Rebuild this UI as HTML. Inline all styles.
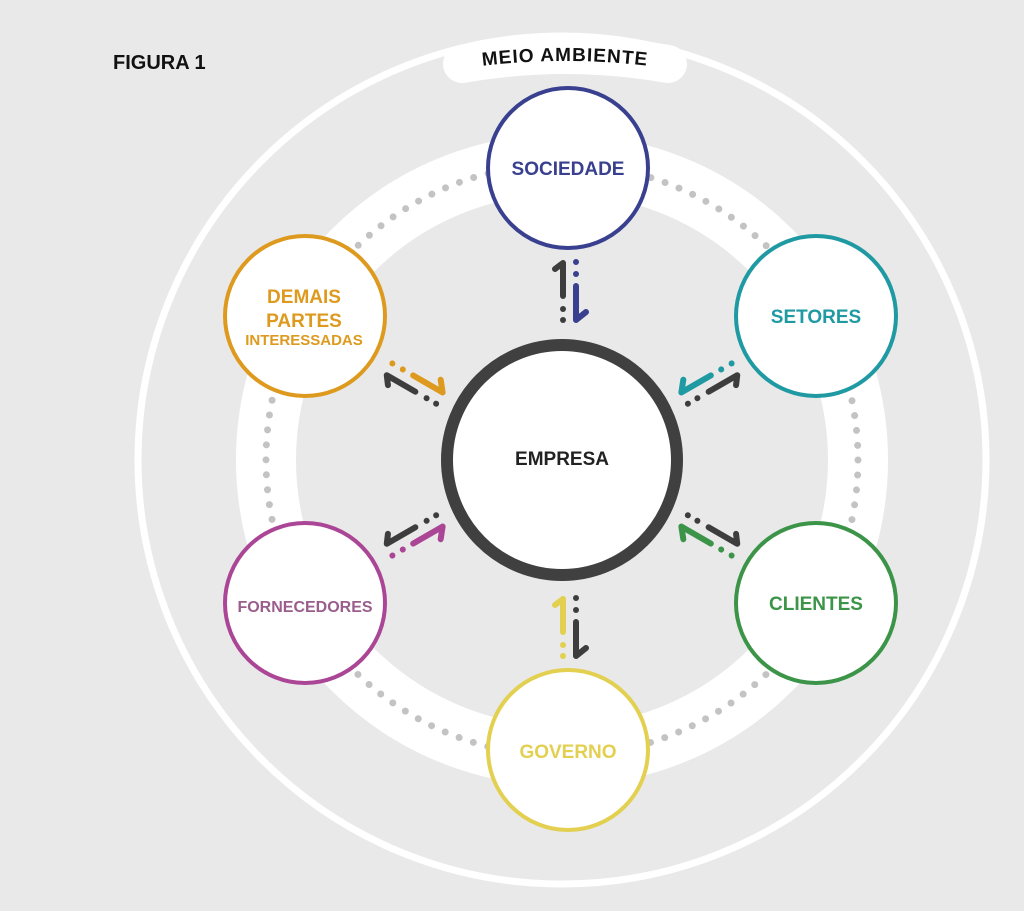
<!DOCTYPE html>
<html><head><meta charset="utf-8"><style>
html,body{margin:0;padding:0;background:#e9e9e9;}
svg{display:block;}
text{font-family:"Liberation Sans",sans-serif;font-weight:bold;}
</style></head><body>
<svg width="1024" height="911" viewBox="0 0 1024 911" xmlns="http://www.w3.org/2000/svg">
<defs>
<path id="arc" d="M 440 72 Q 565 50 690 72"/>
</defs>
<rect width="1024" height="911" fill="#e9e9e9"/>
<text x="113" y="69" font-size="20" fill="#111">FIGURA 1</text>
<circle cx="562" cy="460" r="424" fill="none" stroke="#fff" stroke-width="7"/>
<circle cx="562" cy="460" r="296" fill="none" stroke="#fff" stroke-width="60"/>
<circle cx="562" cy="460" r="296" fill="none" stroke="#c3c3c3" stroke-width="7" stroke-linecap="round" stroke-dasharray="0 15"/>
<path d="M462 64 Q565 46 668 64" fill="none" stroke="#fff" stroke-width="38" stroke-linecap="round"/>
<text font-size="19" fill="#111" letter-spacing="1" text-anchor="middle"><textPath href="#arc" startOffset="50%">MEIO AMBIENTE</textPath></text>

<g fill="#fff" stroke-width="4">
<circle cx="568" cy="168" r="80" stroke="#39408f"/>
<circle cx="816" cy="316" r="80" stroke="#1f9aa2"/>
<circle cx="816" cy="603" r="80" stroke="#3c9448"/>
<circle cx="568" cy="750" r="80" stroke="#e3d050"/>
<circle cx="305" cy="603" r="80" stroke="#ab4596"/>
<circle cx="305" cy="316" r="80" stroke="#dd9a1e"/>
</g>
<circle cx="562" cy="460" r="115" fill="#fff" stroke="#404040" stroke-width="12"/>

<g text-anchor="middle" font-size="19">
<text x="568" y="175" fill="#39408f">SOCIEDADE</text>
<text x="816" y="323" fill="#1f9aa2">SETORES</text>
<text x="816" y="610" fill="#3c9448">CLIENTES</text>
<text x="568" y="758" fill="#e3d050">GOVERNO</text>
<text x="305" y="612" fill="#9a5d8c" font-size="16">FORNECEDORES</text>
<text x="304" y="303" fill="#dd9a1e">DEMAIS</text>
<text x="304" y="327" fill="#dd9a1e">PARTES</text>
<text x="304" y="345" fill="#dd9a1e" font-size="15">INTERESSADAS</text>
<text x="562" y="465" fill="#222">EMPRESA</text>
</g>

<g stroke-linecap="round" stroke-linejoin="round" stroke-width="6">
<g transform="translate(569,291)">
 <g stroke="#3d3d3d" fill="#3d3d3d"><path fill="none" d="M-14 -22 L-6 -28 L-6 5"/><circle cx="-6" cy="18" r="3" stroke="none"/><circle cx="-6" cy="29" r="3" stroke="none"/></g>
 <g stroke="#39408f" fill="#39408f"><path fill="none" d="M7 -5 L7 29 L17 21"/><circle cx="7" cy="-29" r="3" stroke="none"/><circle cx="7" cy="-17" r="3" stroke="none"/></g>
</g>
<g transform="translate(569,627)">
 <g stroke="#e3d050" fill="#e3d050"><path fill="none" d="M-14 -22 L-6 -28 L-6 5"/><circle cx="-6" cy="18" r="3" stroke="none"/><circle cx="-6" cy="29" r="3" stroke="none"/></g>
 <g stroke="#3d3d3d" fill="#3d3d3d"><path fill="none" d="M7 -5 L7 29 L17 21"/><circle cx="7" cy="-29" r="3" stroke="none"/><circle cx="7" cy="-17" r="3" stroke="none"/></g>
</g>
<g transform="translate(414,384) rotate(-60)">
 <g stroke="#3d3d3d" fill="#3d3d3d"><path fill="none" d="M-14 -22 L-6 -28 L-6 5"/><circle cx="-6" cy="18" r="3" stroke="none"/><circle cx="-6" cy="29" r="3" stroke="none"/></g>
 <g stroke="#dd9a1e" fill="#dd9a1e"><path fill="none" d="M7 -5 L7 29 L17 21"/><circle cx="7" cy="-29" r="3" stroke="none"/><circle cx="7" cy="-17" r="3" stroke="none"/></g>
</g>
<g transform="translate(710,384) rotate(60) scale(-1,1)">
 <g stroke="#3d3d3d" fill="#3d3d3d"><path fill="none" d="M-14 -22 L-6 -28 L-6 5"/><circle cx="-6" cy="18" r="3" stroke="none"/><circle cx="-6" cy="29" r="3" stroke="none"/></g>
 <g stroke="#1f9aa2" fill="#1f9aa2"><path fill="none" d="M7 -5 L7 29 L17 21"/><circle cx="7" cy="-29" r="3" stroke="none"/><circle cx="7" cy="-17" r="3" stroke="none"/></g>
</g>
<g transform="translate(414,535) rotate(-120) scale(-1,1)">
 <g stroke="#3d3d3d" fill="#3d3d3d"><path fill="none" d="M-14 -22 L-6 -28 L-6 5"/><circle cx="-6" cy="18" r="3" stroke="none"/><circle cx="-6" cy="29" r="3" stroke="none"/></g>
 <g stroke="#ab4596" fill="#ab4596"><path fill="none" d="M7 -5 L7 29 L17 21"/><circle cx="7" cy="-29" r="3" stroke="none"/><circle cx="7" cy="-17" r="3" stroke="none"/></g>
</g>
<g transform="translate(710,535) rotate(120)">
 <g stroke="#3d3d3d" fill="#3d3d3d"><path fill="none" d="M-14 -22 L-6 -28 L-6 5"/><circle cx="-6" cy="18" r="3" stroke="none"/><circle cx="-6" cy="29" r="3" stroke="none"/></g>
 <g stroke="#3c9448" fill="#3c9448"><path fill="none" d="M7 -5 L7 29 L17 21"/><circle cx="7" cy="-29" r="3" stroke="none"/><circle cx="7" cy="-17" r="3" stroke="none"/></g>
</g>
</g>
</svg>
</body></html>
